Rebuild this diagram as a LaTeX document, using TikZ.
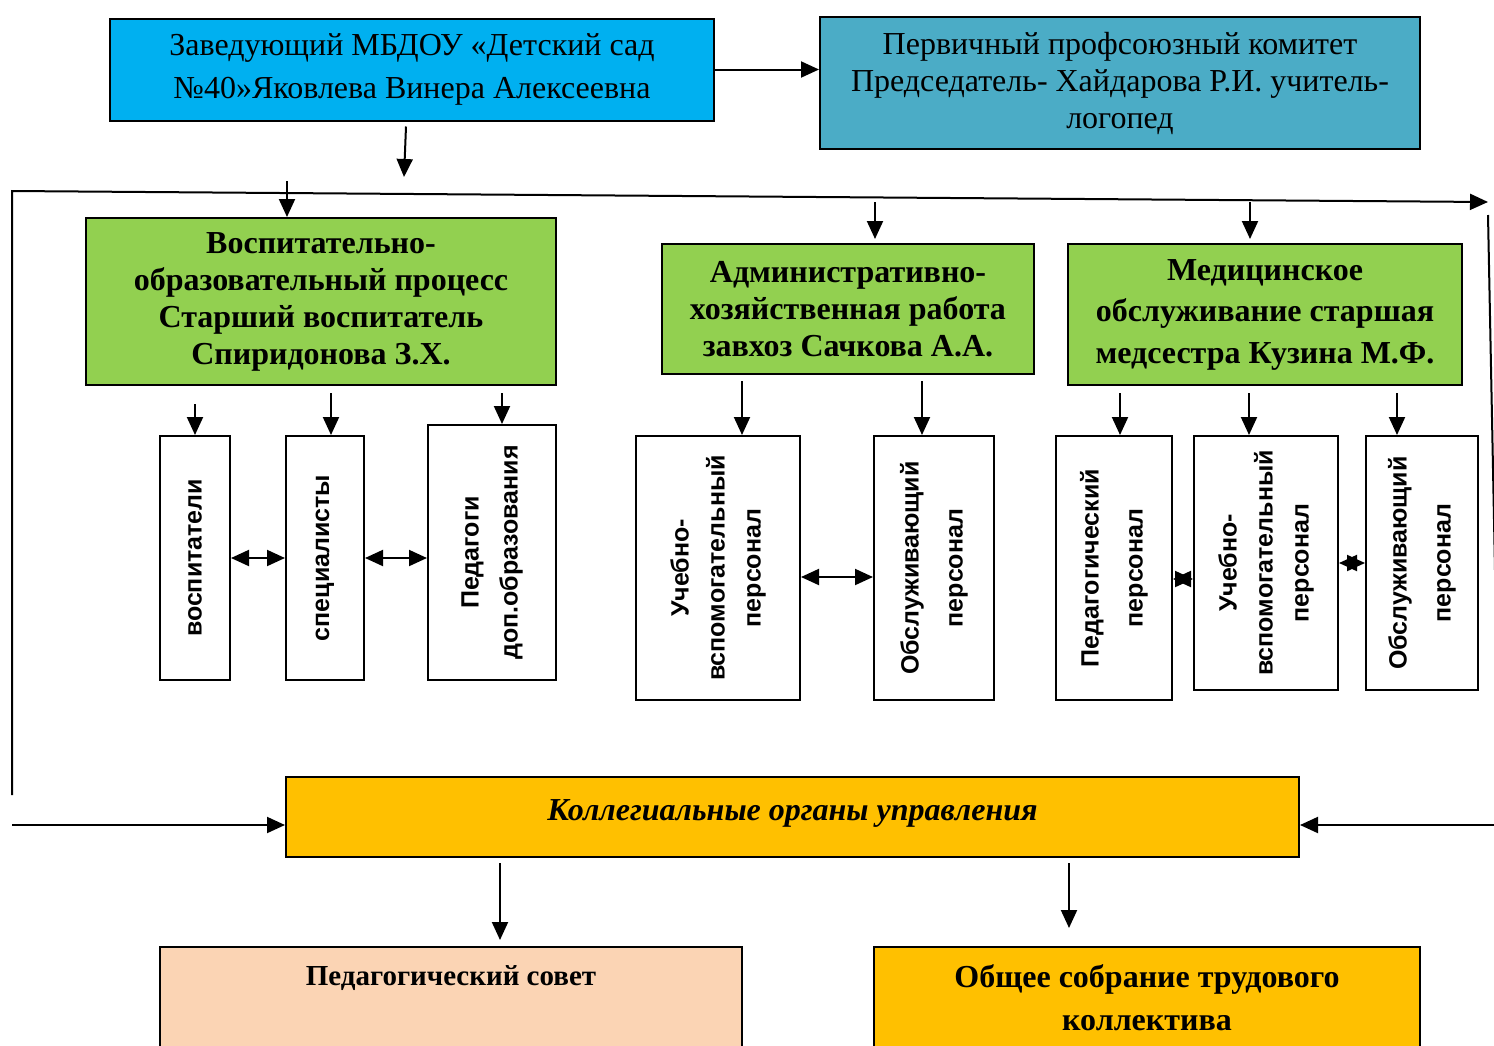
\documentclass[tikz,border=0pt]{standalone}
\usepackage{fontspec}
\setmainfont{Liberation Serif}
\setsansfont{Liberation Sans}
\usetikzlibrary{arrows.meta,positioning}
\definecolor{headblue}{HTML}{00B0F0}
\definecolor{unionteal}{HTML}{4BACC6}
\definecolor{unitgreen}{HTML}{92D050}
\definecolor{collorange}{HTML}{FFC000}
\definecolor{peach}{HTML}{FBD4B4}
\tikzset{
  box/.style={draw, line width=1pt, align=center, inner sep=2pt},
  unit/.style={box, fill=unitgreen, font=\bfseries\fontsize{16}{18.5}\selectfont},
  staff/.style={box, fill=white, rotate=90, font=\sffamily\bfseries\fontsize{12.5}{19.5}\selectfont},
  link/.style={->, line width=1pt},
  dlink/.style={<->, line width=1pt},
}
\begin{document}
\begin{tikzpicture}[x=0.5pt,y=-0.5pt,>={Triangle[length=9pt,width=8pt]}]
\useasboundingbox (0,0) rectangle (1494,1045);
% руководство
\node[box,fill=headblue,minimum width=302pt,minimum height=51pt,font=\fontsize{16}{21.5}\selectfont] (head) at (412,69.5) {Заведующий МБДОУ «Детский сад\\№40»Яковлева Винера Алексеевна};
\node[box,fill=unionteal,minimum width=300pt,minimum height=66pt,font=\fontsize{16}{18.5}\selectfont] (union) at (1120,83) {Первичный профсоюзный комитет\\Председатель- Хайдарова Р.И. учитель-\\логопед};
% направления
\node[unit,minimum width=235pt,minimum height=83.5pt] (edu) at (321,301.5) {Воспитательно-\\образовательный процесс\\Старший воспитатель\\Спиридонова З.Х.};
\node[unit,minimum width=186pt,minimum height=65pt] (adm) at (848,309) {Административно-\\хозяйственная работа\\завхоз Сачкова А.А.};
\node[unit,minimum width=197pt,minimum height=70.5pt,font=\bfseries\fontsize{16}{20.75}\selectfont] (med) at (1265,314.5) {Медицинское\\обслуживание старшая\\медсестра Кузина М.Ф.};
% персонал
\node[staff,minimum width=122pt,minimum height=35pt] (vosp) at (195,558) {воспитатели};
\node[staff,minimum width=122pt,minimum height=39pt] (spec) at (325,558) {специалисты};
\node[staff,minimum width=127.5pt,minimum height=64pt] (dop) at (492,552.5) {Педагоги\\доп.образования};
\node[staff,minimum width=132pt,minimum height=82pt,font=\sffamily\bfseries\fontsize{12.5}{18}\selectfont] (uvpa) at (718,568) {Учебно-\\вспомогательный\\персонал};
\node[staff,minimum width=132pt,minimum height=60pt,font=\sffamily\bfseries\fontsize{12.5}{22}\selectfont] (obsla) at (934,568) {Обслуживающий\\персонал};
\node[staff,minimum width=132pt,minimum height=58pt,font=\sffamily\bfseries\fontsize{12.5}{22}\selectfont] (pedm) at (1114,568) {Педагогический\\персонал};
\node[staff,minimum width=127pt,minimum height=72pt,font=\sffamily\bfseries\fontsize{12.5}{18}\selectfont] (uvpm) at (1266,563) {Учебно-\\вспомогательный\\персонал};
\node[staff,minimum width=127pt,minimum height=56pt,font=\sffamily\bfseries\fontsize{12.5}{22}\selectfont] (obslm) at (1422,563) {Обслуживающий\\персонал};
% коллегиальные органы
\node[box,fill=collorange,minimum width=506.5pt,minimum height=40pt,font=\bfseries\itshape\fontsize{16}{18}\selectfont] (coll) at (792.5,817) {\raisebox{6.5pt}{Коллегиальные органы управления}};
\node[box,fill=peach,anchor=north,inner sep=0pt] (council) at (451,946) {\parbox[t][60pt][t]{291pt}{\centering\bfseries\fontsize{14.5}{17}\selectfont\vspace*{9.5pt}Педагогический совет}};
\node[box,fill=collorange,anchor=north,inner sep=0pt] (meeting) at (1147,946) {\parbox[t][60pt][t]{273pt}{\centering\bfseries\fontsize{16}{21.5}\selectfont\vspace*{9pt}Общее собрание трудового\\коллектива}};
% рамка
\coordinate (fbl) at (12,795);
\coordinate (ftl) at (12,191);
\coordinate (ftr) at (1488,202);
\coordinate (frt) at (1488,215);
\coordinate (frb) at (1500,825);
\coordinate (fl) at (12,825);
\coordinate (headout) at (404,177);
\coordinate (t1) at (287,181);
\coordinate (t2) at (875,202);
\coordinate (t3) at (1250,202);
\coordinate (p1) at (500,0);
\coordinate (p2) at (1069,0);
\draw[link] (head.east) -- (union.west |- head.east);
\draw[link] ([xshift=-3pt,yshift=-2.5pt]head.south) -- (headout);
\draw[link] (fbl) -- (ftl) -- (ftr);
\draw[line width=1pt] (frt) -- (frb);
\draw[link] (frb) -- (coll.east |- frb);
\draw[link] (fl) -- (coll.west |- fl);
\draw[link] (t1) -- (t1 |- edu.north);
\draw[link,shorten >=2pt] (t2) -- (t2 |- adm.north);
\draw[link,shorten >=2pt] (t3) -- (t3 |- med.north);
% стрелки к персоналу
\draw[link,shorten <=9pt] (edu.south -| vosp.east) -- (vosp.east);
\draw[link,shorten <=3.5pt] ([xshift=3pt]edu.south -| spec.east) -- ([xshift=3pt]spec.east);
\draw[link,shorten <=3.5pt] ([xshift=5pt]edu.south -| dop.east) -- ([xshift=5pt]dop.east);
\draw[link,shorten <=3pt] ([xshift=12pt]adm.south -| uvpa.east) -- ([xshift=12pt]uvpa.east);
\draw[link,shorten <=3pt] ([xshift=-6pt]adm.south -| obsla.east) -- ([xshift=-6pt]obsla.east);
\draw[link,shorten <=3.5pt] ([xshift=3pt]med.south -| pedm.east) -- ([xshift=3pt]pedm.east);
\draw[link,shorten <=3.5pt] ([xshift=-8.5pt]med.south -| uvpm.east) -- ([xshift=-8.5pt]uvpm.east);
\draw[link,shorten <=3.5pt] ([xshift=-12.5pt]med.south -| obslm.east) -- ([xshift=-12.5pt]obslm.east);
\draw[dlink] (vosp.south) -- (spec.north);
\draw[dlink] (spec.south) -- (dop.north |- spec.south);
\draw[dlink] ([yshift=-4.5pt]uvpa.south) -- ([yshift=-4.5pt]obsla.north);
\draw[dlink] ([yshift=-5.5pt]pedm.south) -- ([yshift=-5.5pt]uvpm.north |- pedm.south);
\draw[dlink] (uvpm.south) -- (obslm.north);
% вниз
\draw[link,shorten <=2.5pt,shorten >=3pt] (p1 |- coll.south) -- (p1 |- council.north);
\draw[link,shorten <=2.5pt,shorten >=9pt] (p2 |- coll.south) -- (p2 |- meeting.north);
\end{tikzpicture}
\end{document}
